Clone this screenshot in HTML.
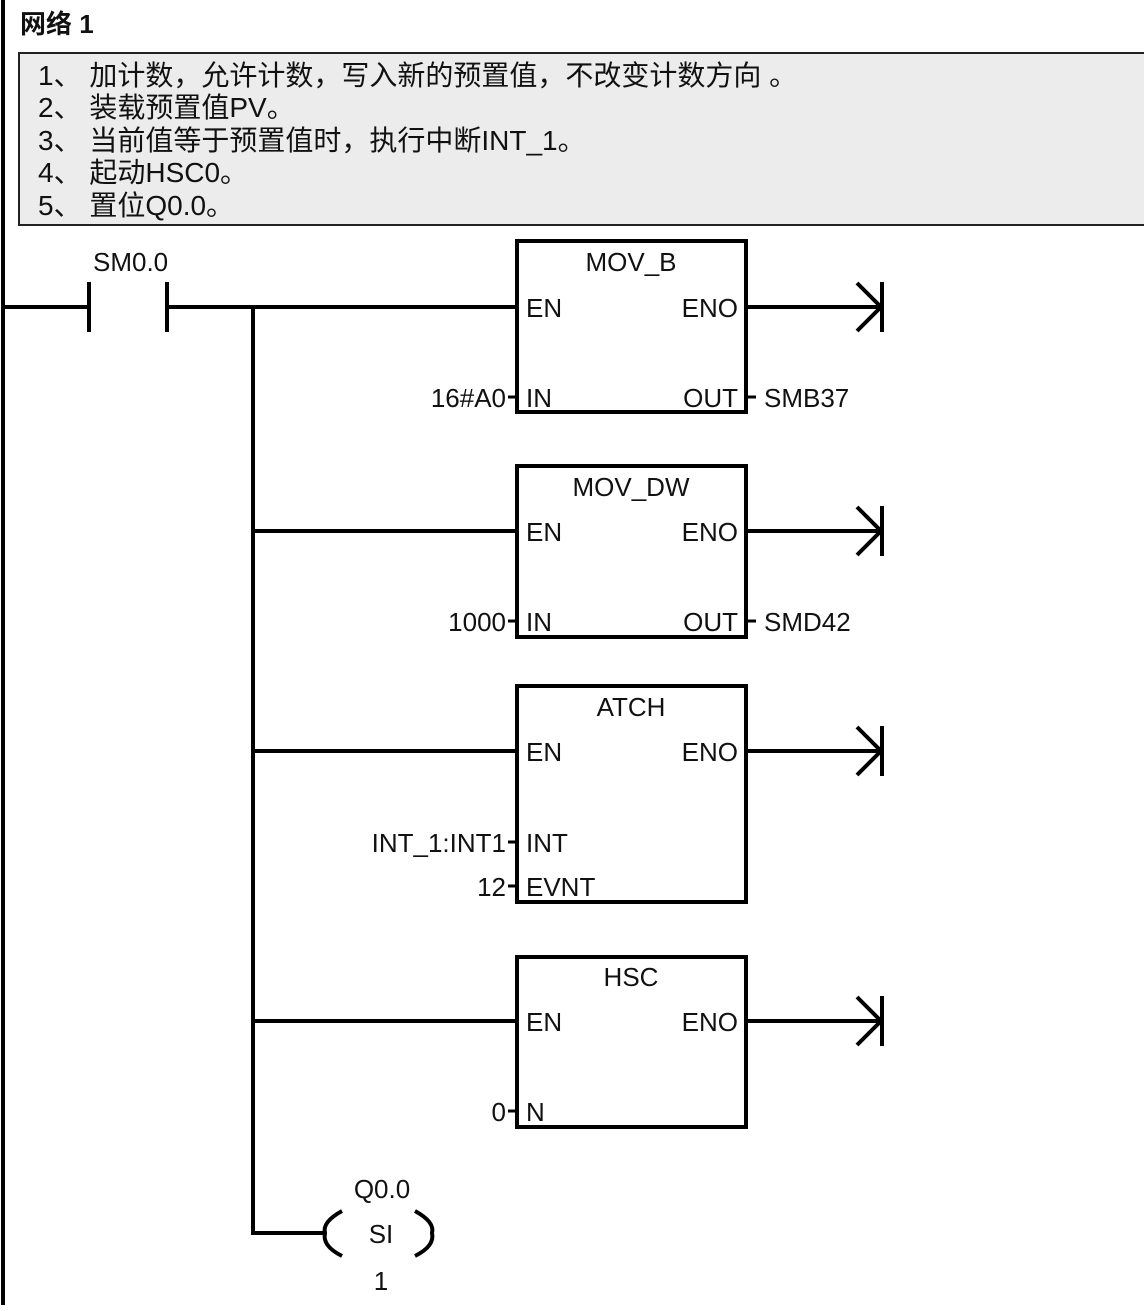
<!DOCTYPE html>
<html><head><meta charset="utf-8"><style>
body{margin:0;background:#fff;}
svg text{font-family:"Liberation Sans","Noto Sans CJK SC",sans-serif;fill:#111;}
</style></head><body>
<svg width="1144" height="1305" viewBox="0 0 1144 1305" xmlns="http://www.w3.org/2000/svg">
<rect x="0" y="0" width="1144" height="1305" fill="#fff"/>
<line x1="3" y1="0" x2="3" y2="1305" stroke="#000" stroke-width="4"/>
<text x="20" y="33" font-size="26" font-weight="bold">网络 1</text>
<rect x="19" y="53" width="1130" height="172" fill="#ececec" stroke="#222" stroke-width="2"/>
<g font-size="28">
<text x="38" y="85">1、 加计数，允许计数，写入新的预置值，不改变计数方向 。</text>
<text x="38" y="117">2、 装载预置值PV。</text>
<text x="38" y="150">3、 当前值等于预置值时，执行中断INT_1。</text>
<text x="38" y="182">4、 起动HSC0。</text>
<text x="38" y="215">5、 置位Q0.0。</text>
</g>
<g stroke="#000" stroke-width="4" fill="none">
<line x1="3" y1="307" x2="89" y2="307"/>
<line x1="89" y1="282" x2="89" y2="332"/>
<line x1="167" y1="282" x2="167" y2="332"/>
<line x1="167" y1="307" x2="517" y2="307"/>
<line x1="253" y1="307" x2="253" y2="1235"/>
<line x1="253" y1="531" x2="517" y2="531"/>
<line x1="253" y1="751" x2="517" y2="751"/>
<line x1="253" y1="1021" x2="517" y2="1021"/>
<line x1="251" y1="1233" x2="325" y2="1233"/>
<rect x="517" y="241" width="229" height="171"/>
<rect x="517" y="466" width="229" height="171"/>
<rect x="517" y="686" width="229" height="216"/>
<rect x="517" y="957" width="229" height="170"/>
<g>
<line x1="746" y1="307" x2="882" y2="307"/><line x1="882" y1="282" x2="882" y2="332"/><polyline points="857,283 881,307 857,331"/>
<line x1="746" y1="531" x2="882" y2="531"/><line x1="882" y1="506" x2="882" y2="556"/><polyline points="857,507 881,531 857,555"/>
<line x1="746" y1="751" x2="882" y2="751"/><line x1="882" y1="726" x2="882" y2="776"/><polyline points="857,727 881,751 857,775"/>
<line x1="746" y1="1021" x2="882" y2="1021"/><line x1="882" y1="996" x2="882" y2="1046"/><polyline points="857,997 881,1021 857,1045"/>
</g>
<g stroke-width="3">
<line x1="508" y1="397" x2="517" y2="397"/><line x1="746" y1="397" x2="756" y2="397"/>
<line x1="508" y1="621" x2="517" y2="621"/><line x1="746" y1="621" x2="756" y2="621"/>
<line x1="508" y1="842" x2="517" y2="842"/><line x1="508" y1="886" x2="517" y2="886"/>
<line x1="508" y1="1111" x2="517" y2="1111"/>
</g>
<path d="M342 1211 Q322 1222 325 1233 Q322 1246 342 1256"/>
<path d="M415 1211 Q435 1222 432 1233 Q435 1246 415 1256"/>
</g>
<g font-size="26">
<text x="93" y="271">SM0.0</text>
<text x="631" y="271" text-anchor="middle">MOV_B</text>
<text x="526" y="317">EN</text><text x="738" y="317" text-anchor="end">ENO</text>
<text x="506" y="407" text-anchor="end">16#A0</text><text x="526" y="407">IN</text><text x="738" y="407" text-anchor="end">OUT</text><text x="764" y="407">SMB37</text>
<text x="631" y="496" text-anchor="middle">MOV_DW</text>
<text x="526" y="541">EN</text><text x="738" y="541" text-anchor="end">ENO</text>
<text x="506" y="631" text-anchor="end">1000</text><text x="526" y="631">IN</text><text x="738" y="631" text-anchor="end">OUT</text><text x="764" y="631">SMD42</text>
<text x="631" y="716" text-anchor="middle">ATCH</text>
<text x="526" y="761">EN</text><text x="738" y="761" text-anchor="end">ENO</text>
<text x="506" y="852" text-anchor="end">INT_1:INT1</text><text x="526" y="852">INT</text>
<text x="506" y="896" text-anchor="end">12</text><text x="526" y="896">EVNT</text>
<text x="631" y="986" text-anchor="middle">HSC</text>
<text x="526" y="1031">EN</text><text x="738" y="1031" text-anchor="end">ENO</text>
<text x="506" y="1121" text-anchor="end">0</text><text x="526" y="1121">N</text>
<text x="382" y="1198" text-anchor="middle">Q0.0</text>
<text x="381" y="1243" text-anchor="middle">SI</text>
<text x="381" y="1290" text-anchor="middle">1</text>
</g>
</svg>
</body></html>
